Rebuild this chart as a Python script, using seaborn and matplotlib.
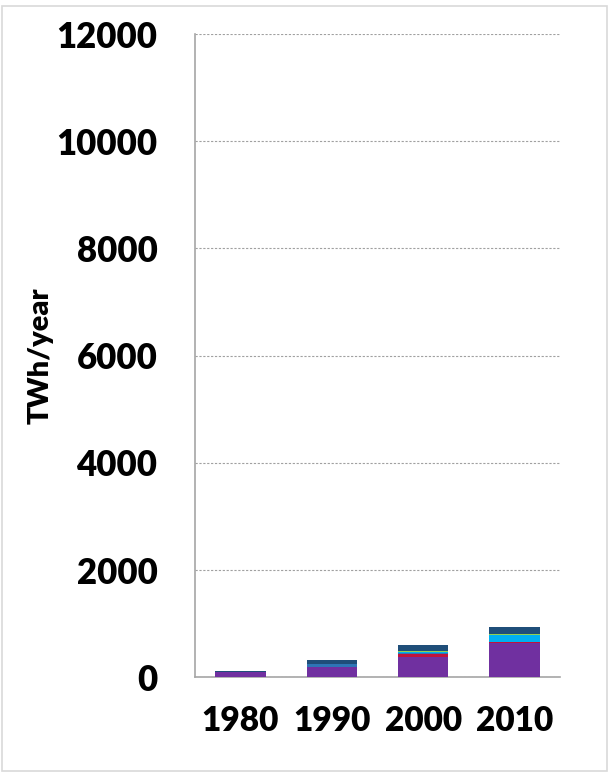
import matplotlib
matplotlib.use("Agg")
import matplotlib.pyplot as plt
import numpy as np
import pandas as pd
import seaborn as sns

# 資料
years = ["1980", "1990", "2000", "2010"]
purple = [100, 190, 370, 640]
red = [0, 0, 60, 10]
blue = [0, 50, 20, 0]
cyan = [0, 0, 20, 130]
green = [0, 0, 25, 35]
navy = [15, 75, 100, 125]

layers = [purple, red, blue, cyan, green, navy]
colors = ["#7030A0", "#C0143C", "#2E75B6", "#00B0F0", "#92D050", "#1F4E79"]

sns.set_style("white")
plt.rcParams["font.family"] = ["Lato", "DejaVu Sans"]
plt.rcParams["text.color"] = "black"
plt.rcParams["xtick.color"] = "black"
plt.rcParams["ytick.color"] = "black"
plt.rcParams["axes.labelcolor"] = "black"

fig = plt.figure(figsize=(6.09, 7.74), dpi=100)
ax = fig.add_axes([0.320, 0.125, 0.600, 0.831])

# 堆疊：由最上層的累計值開始畫，較小的累計值蓋在上面
cum = np.cumsum(np.array(layers), axis=0)
for i in range(len(layers) - 1, -1, -1):
    df = pd.DataFrame({"year": years, "value": cum[i]})
    sns.barplot(data=df, x="year", y="value", color=colors[i], width=0.55,
                saturation=1, linewidth=0, ax=ax, zorder=3)

ax.set_ylim(0, 12000)
ax.set_xlim(-0.5, 3.5)
ax.set_yticks(range(0, 12001, 2000))
ax.yaxis.grid(True, linestyle=(0, (2, 1.5)), color="#a0a0a0", linewidth=0.8)
ax.set_axisbelow(True)

for side in ["top", "right"]:
    ax.spines[side].set_visible(False)
for side in ["left", "bottom"]:
    ax.spines[side].set_color("#a6a6a6")
    ax.spines[side].set_linewidth(1.2)

ax.set_xticks([0, 1, 2, 3])
ax.set_xticklabels(years)
ax.set_xticks([-0.5, 0.5, 1.5, 2.5, 3.5], minor=True)
ax.tick_params(axis="x", which="major", length=0, pad=20, labelsize=24)
ax.tick_params(axis="x", which="minor", length=10, color="#a6a6a6", width=1.2)
ax.tick_params(axis="y", length=10, color="#a6a6a6", width=1.2, pad=17, labelsize=25)
for lbl in ax.get_xticklabels() + ax.get_yticklabels():
    lbl.set_fontweight("heavy")

ax.set_xlabel("")
ax.set_ylabel("TWh/year", fontsize=21, fontweight="heavy", labelpad=2)

# 外框
fig.patches.append(plt.Rectangle((0.004, 0.004), 0.992, 0.988, transform=fig.transFigure,
                                 fill=False, edgecolor="#d9d9d9", linewidth=1.2))

fig.savefig("out.png", dpi=100)
